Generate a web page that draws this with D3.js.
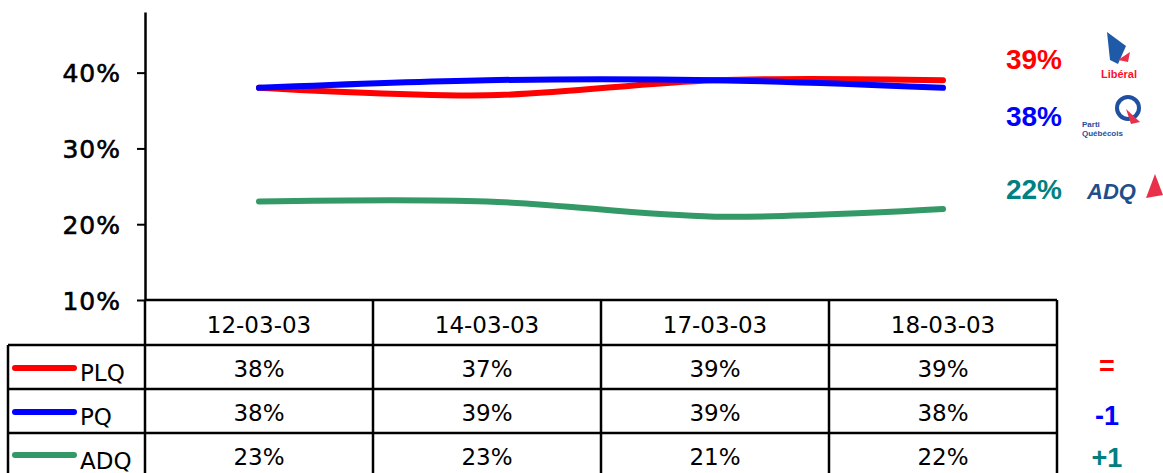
<!DOCTYPE html>
<html><head><meta charset="utf-8">
<script src="https://cdn.jsdelivr.net/npm/d3@7"></script>
<style>html,body{margin:0;padding:0;background:#fff;overflow:hidden}svg{display:block}</style>
</head><body>
<script>
const dates = ["12-03-03","14-03-03","17-03-03","18-03-03"];
const seriesNames = ["PLQ","PQ","ADQ"];
const plq = [38,37,39,39];
const pq = [38,39,39,38];
const adq = [23,23,21,22];
const changes = ["=","-1","+1"];
const yTicks = [10,20,30,40];
const lineColors = ["#ff0000","#0000ff","#339966"];
const labelColors = ["#ff0000","#0000ff","#008080"];

const W=1163,H=473;
const svg=d3.select("body").append("svg").attr("width",W).attr("height",H);
const x=d3.scaleBand().domain(dates).range([145,1057]).padding(0);
const y=d3.scaleLinear().domain([10,48]).range([300,12]);
const series=[plq,pq,adq];

// y axis
const yAxis=d3.axisLeft(y).tickValues(yTicks).tickSize(8).tickSizeOuter(0).tickFormat(d=>d+"%");
const ga=svg.append("g").attr("transform","translate(145,0)").call(yAxis);
ga.select(".domain").attr("stroke","#000").attr("stroke-width",2.5);
ga.selectAll(".tick line").attr("stroke","#000").attr("stroke-width",2);
ga.selectAll(".tick text").attr("x",-24).attr("dy","0.36em").attr("fill","#000")
  .style("font-family","'DejaVu Sans'").style("font-size","25px").style("letter-spacing","1px")
  .attr("stroke","#000").attr("stroke-width",0.6);
svg.append("line").attr("x1",145).attr("x2",145).attr("y1",300).attr("y2",H).attr("stroke","#000").attr("stroke-width",2.5);

// lines
const line=d3.line().x((d,i)=>x(dates[i])+x.bandwidth()/2).y(d=>y(d)).curve(d3.curveCatmullRom.alpha(0.5));
series.forEach((s,k)=>{
  svg.append("path").datum(s).attr("d",line).attr("fill","none").attr("stroke",lineColors[k])
    .attr("stroke-width",6).attr("stroke-linecap","round").attr("stroke-linejoin","round");
});

// table
const tg=svg.append("g");
const hl=(x1,x2,yy)=>tg.append("line").attr("x1",x1).attr("x2",x2).attr("y1",yy).attr("y2",yy).attr("stroke","#000").attr("stroke-width",2.5);
hl(145,1057,300); hl(8,1057,345); hl(8,1057,389); hl(8,1057,433);
const vl=(xx,y1,y2)=>tg.append("line").attr("x1",xx).attr("x2",xx).attr("y1",y1).attr("y2",y2).attr("stroke","#000").attr("stroke-width",2.5);
vl(8,345,H);
dates.forEach(d=>vl(x(d)+x.bandwidth(),300,H));
const cellFont="'DejaVu Sans'";
dates.forEach(d=>{
  tg.append("text").attr("x",x(d)+x.bandwidth()/2).attr("y",333).attr("text-anchor","middle")
    .style("font-family",cellFont).style("font-size","23px").attr("fill","#000").text(d);
});
const rowBase=[377,421,465];
const legLineY=[368,412,455];
series.forEach((s,k)=>{
  s.forEach((v,i)=>{
    tg.append("text").attr("x",x(dates[i])+x.bandwidth()/2).attr("y",rowBase[k]).attr("text-anchor","middle")
      .style("font-family",cellFont).style("font-size","23px").attr("fill","#000").text(v+"%");
  });
  tg.append("line").attr("x1",15).attr("x2",74).attr("y1",legLineY[k]).attr("y2",legLineY[k])
    .attr("stroke",lineColors[k]).attr("stroke-width",6).attr("stroke-linecap","round");
  tg.append("text").attr("x",80).attr("y",rowBase[k]+4)
    .style("font-family",cellFont).style("font-size","23px").attr("fill","#000").text(seriesNames[k]);
  tg.append("text").attr("x",1107).attr("y",[375,425,467][k]).attr("text-anchor","middle")
    .style("font-family","'Liberation Sans'").style("font-weight","bold").style("font-size","27px")
    .attr("fill",labelColors[k]).text(changes[k]);
});

// right labels
const rightY=[69,126,199];
series.forEach((s,k)=>{
  svg.append("text").attr("x",1034).attr("y",rightY[k]).attr("text-anchor","middle")
    .style("font-family","'Liberation Sans'").style("font-weight","bold").style("font-size","28px")
    .attr("fill",labelColors[k]).text(s[s.length-1]+"%");
});

// logos (approximations)
const lg=svg.append("g");
lg.append("path").attr("d","M1107,32 L1126,46 L1118,64 L1110,60 Z").attr("fill","#1f5aa8");
lg.append("path").attr("d","M1118,60 L1130,52 L1128,62 Z").attr("fill","#e8304a");
lg.append("text").attr("x",1119).attr("y",78).attr("text-anchor","middle").style("font-family","'Liberation Sans'")
  .style("font-weight","bold").style("font-size","11px").attr("fill","#ff1030").text("Libéral");
lg.append("circle").attr("cx",1128).attr("cy",108).attr("r",11).attr("fill","none").attr("stroke","#1f4fa0").attr("stroke-width",4);
lg.append("path").attr("d","M1126,109 L1140,122 L1131,124 Z").attr("fill","#e8304a");
lg.append("text").attr("x",1082).attr("y",127).style("font-family","'Liberation Sans'").style("font-weight","bold")
  .style("font-size","8px").attr("fill","#1f4fa0").text("Parti");
lg.append("text").attr("x",1082).attr("y",136).style("font-family","'Liberation Sans'").style("font-weight","bold")
  .style("font-size","8px").attr("fill","#1f4fa0").text("Québécois");
lg.append("path").attr("d","M1155,174 L1163,195 L1146,198 Z").attr("fill","#e8304a");
lg.append("text").attr("x",1087).attr("y",199).style("font-family","'Liberation Sans'").style("font-weight","bold")
  .style("font-style","italic").style("font-size","22px").attr("fill","#1f4f8a").text("ADQ");
</script>
</body></html>
